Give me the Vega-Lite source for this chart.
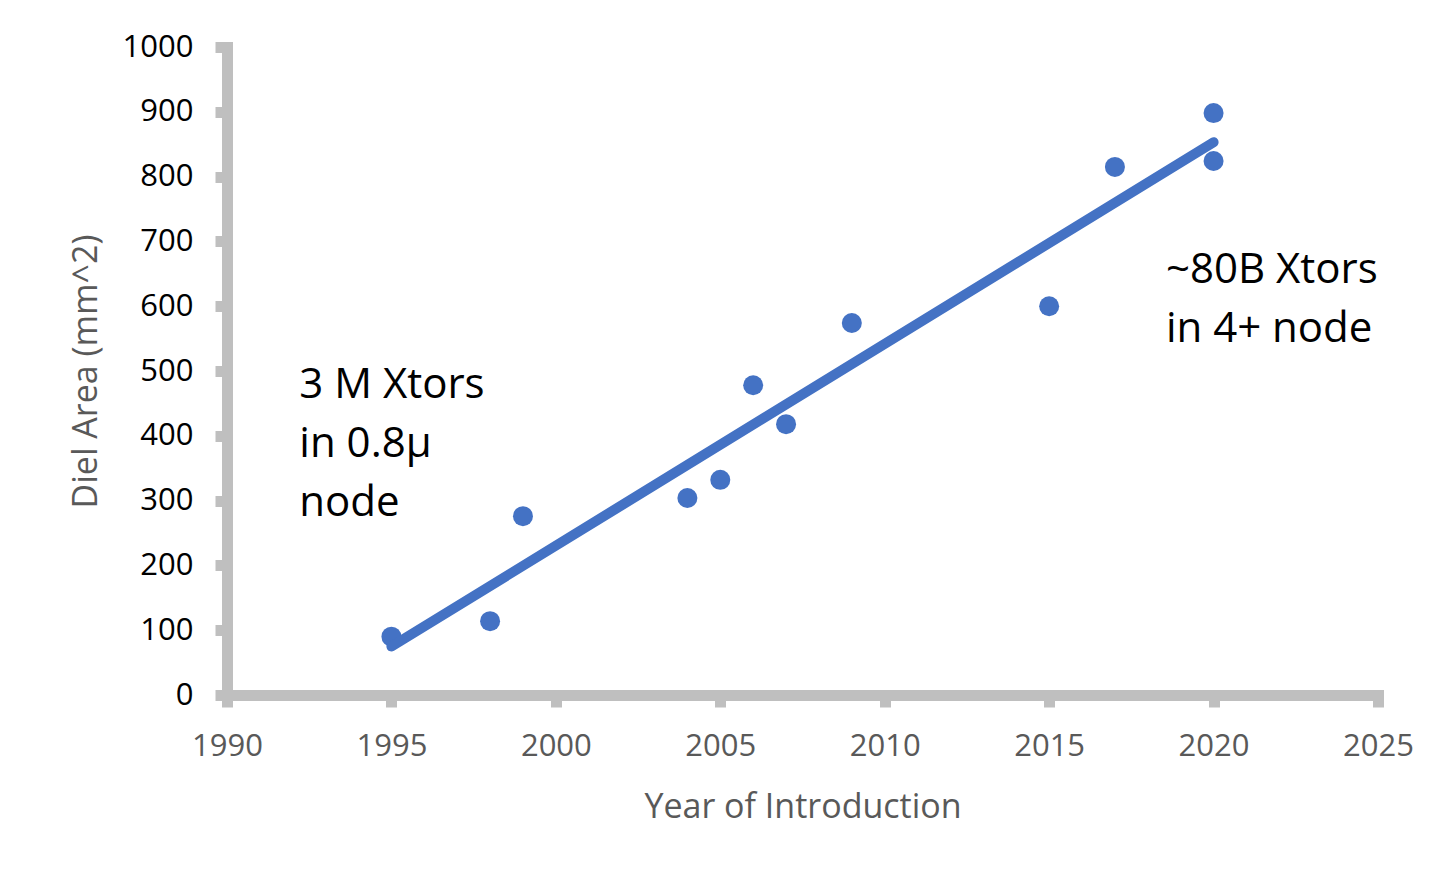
{
  "$schema": "https://vega.github.io/schema/vega-lite/v6.json",
  "width": 1151,
  "height": 648,
  "autosize": {"type": "none"},
  "padding": {"left": 227, "top": 47, "right": 59, "bottom": 177},
  "background": "white",
  "config": {
    "view": {"stroke": null},
    "font": "Open Sans",
    "axis": {
      "grid": false,
      "domainColor": "#bfbfbf",
      "domainWidth": 11,
      "domainCap": "square",
      "tickColor": "#bfbfbf",
      "tickWidth": 11,
      "tickSize": 12,
      "labelFont": "Open Sans",
      "labelFontSize": 31,
      "labelFlush": false,
      "labelOverlap": false,
      "titleFont": "Open Sans",
      "titleFontSize": 34,
      "titleFontWeight": "normal",
      "titleColor": "#595959"
    }
  },
  "datasets": {
    "chips": [
      {"year": 1995, "area": 90},
      {"year": 1998, "area": 114},
      {"year": 1999, "area": 276},
      {"year": 2004, "area": 304},
      {"year": 2005, "area": 332},
      {"year": 2006, "area": 478},
      {"year": 2007, "area": 418},
      {"year": 2009, "area": 574},
      {"year": 2015, "area": 600},
      {"year": 2017, "area": 815},
      {"year": 2020, "area": 898},
      {"year": 2020, "area": 824}
    ],
    "notes": [
      {"year": 1992.2, "area": 458, "label": "3 M Xtors\nin 0.8μ\nnode"},
      {"year": 2018.55, "area": 636, "label": "~80B Xtors\nin 4+ node"}
    ]
  },
  "layer": [
    {
      "data": {"name": "chips"},
      "mark": {"type": "circle", "size": 400, "opacity": 1, "color": "#4472C4"},
      "encoding": {
        "x": {
          "field": "year", "type": "quantitative",
          "scale": {"domain": [1990, 2025], "nice": false, "zero": false},
          "axis": {
            "title": "Year of Introduction",
            "values": [1990, 1995, 2000, 2005, 2010, 2015, 2020, 2025],
            "format": "d",
            "labelColor": "#595959",
            "labelPadding": 24,
            "titlePadding": 29
          }
        },
        "y": {
          "field": "area", "type": "quantitative",
          "scale": {"domain": [0, 1000], "nice": false},
          "axis": {
            "title": "Diel Area (mm^2)",
            "values": [0, 100, 200, 300, 400, 500, 600, 700, 800, 900, 1000],
            "format": "d",
            "labelColor": "#000000",
            "labelPadding": 22,
            "titlePadding": 19
          }
        }
      }
    },
    {
      "data": {"name": "chips"},
      "transform": [
        {"regression": "area", "on": "year", "extent": [1995, 2020]}
      ],
      "mark": {"type": "line", "color": "#4472C4", "strokeWidth": 10, "strokeCap": "round"},
      "encoding": {
        "x": {"field": "year", "type": "quantitative"},
        "y": {"field": "area", "type": "quantitative"}
      }
    },
    {
      "data": {"name": "notes"},
      "mark": {
        "type": "text", "align": "left", "baseline": "alphabetic",
        "fontSize": 42, "lineHeight": 59, "lineBreak": "\n",
        "color": "#000000", "font": "Open Sans"
      },
      "encoding": {
        "x": {"field": "year", "type": "quantitative"},
        "y": {"field": "area", "type": "quantitative"},
        "text": {"field": "label"}
      }
    }
  ]
}
